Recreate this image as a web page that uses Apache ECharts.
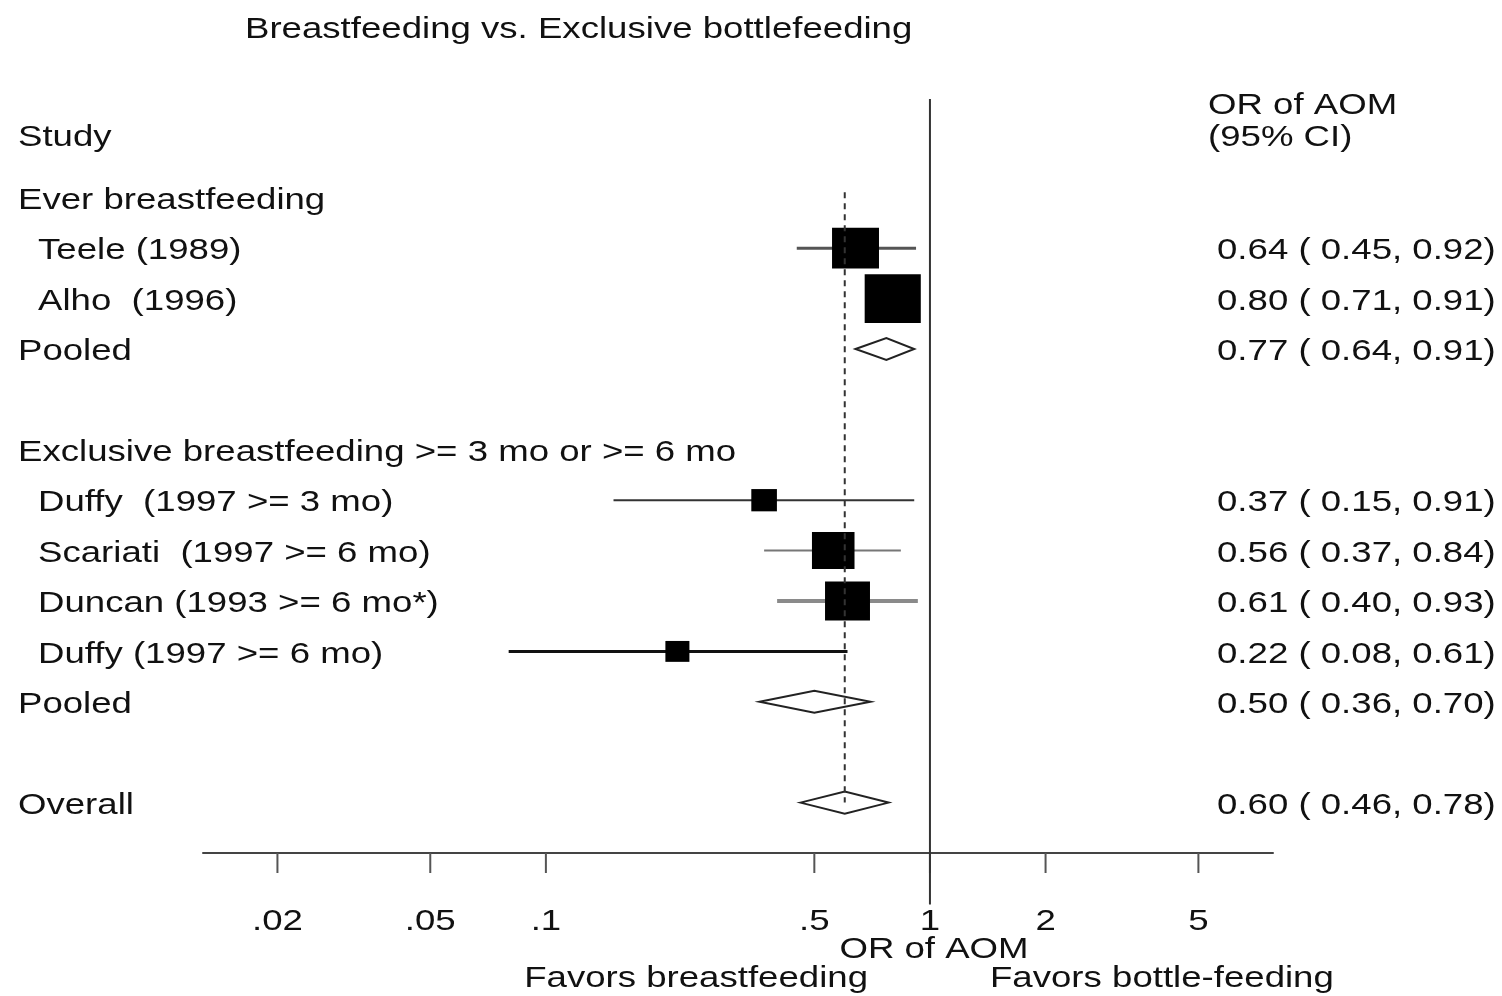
<!DOCTYPE html>
<html>
<head>
<meta charset="utf-8">
<title>Breastfeeding vs. Exclusive bottlefeeding</title>
<script src="https://cdn.jsdelivr.net/npm/echarts@6/dist/echarts.min.js"></script>
<style>
  html, body { margin: 0; padding: 0; background: #ffffff; }
  #chart { width: 1502px; height: 996px; }
</style>
</head>
<body>
<div id="chart"></div>
<script>
// ---- data -----------------------------------------------------------
const studyNames = [
  'Teele (1989)',
  'Alho  (1996)',
  'Pooled',
  'Duffy  (1997 >= 3 mo)',
  'Scariati  (1997 >= 6 mo)',
  'Duncan (1993 >= 6 mo*)',
  'Duffy (1997 >= 6 mo)',
  'Pooled',
  'Overall'
];
const rowPositions = [1, 2, 3, 6, 7, 8, 9, 10, 12];
const oddsRatio = [0.64, 0.80, 0.77, 0.37, 0.56, 0.61, 0.22, 0.50, 0.60];
const ciLower   = [0.45, 0.71, 0.64, 0.15, 0.37, 0.40, 0.08, 0.36, 0.46];
const ciUpper   = [0.92, 0.91, 0.91, 0.91, 0.84, 0.93, 0.61, 0.70, 0.78];
const isPooled  = [false, false, true, false, false, false, false, true, true];
const weightPct = [42, 60, 0, 12.5, 34.5, 38.5, 11, 0, 0];

const groupHeaders = ['Ever breastfeeding', 'Exclusive breastfeeding >= 3 mo or >= 6 mo'];
const groupHeaderRows = [0, 5];

const tickValues = [0.02, 0.05, 0.1, 0.5, 1, 2, 5];
const tickLabels = ['.02', '.05', '.1', '.5', '1', '2', '5'];

// ---- styling ----------------------------------------------------------
const FONT = '30px "Liberation Sans", Arial, Helvetica, sans-serif';
const TEXT_SX = 1.22;            // horizontal stretch of all lettering
const TEXT_DY = 3;               // optical shift so cap centres sit on the row
const TEXT_COLOR = '#111111';
const BOX_SCALE = 6.3;           // box side = BOX_SCALE * sqrt(weight)
const BOX_ASPECT = 1.15;
const ciStyles = [
  { color: '#555555', width: 3 },
  { color: '#444444', width: 3 },
  null,
  { color: '#333333', width: 2 },
  { color: '#777777', width: 2 },
  { color: '#8a8a8a', width: 4 },
  { color: '#111111', width: 3 },
  null,
  null
];

function textEl(x, y, text, align) {
  return {
    type: 'text',
    x: x,
    y: y + TEXT_DY,
    scaleX: TEXT_SX,
    silent: true,
    style: {
      text: text,
      x: 0,
      y: 0,
      font: FONT,
      fill: TEXT_COLOR,
      align: align || 'left',
      verticalAlign: 'middle'
    }
  };
}

function fmt(v) { return v.toFixed(2); }

const overallIndex = studyNames.length - 1;
const studyData = studyNames.map((_, i) => [oddsRatio[i], rowPositions[i], ciLower[i], ciUpper[i]]);
const headerData = groupHeaders.map((_, i) => [1, groupHeaderRows[i]]);
const tickData = tickValues.map(v => [v, 13]);
const refLineData = [
  [1, -1.96, 14.02],
  [oddsRatio[overallIndex], -0.11, rowPositions[overallIndex]]
];

const chart = echarts.init(document.getElementById('chart'), null, { renderer: 'canvas' });

const option = {
  animation: false,
  backgroundColor: '#ffffff',
  grid: { left: 203, right: 229, top: 97, bottom: 143, containLabel: false },
  xAxis: {
    type: 'log',
    logBase: 10,
    min: 0.0128,
    max: 7.82,
    position: 'bottom',
    axisLine: { show: true, onZero: false, lineStyle: { color: '#444444', width: 2 } },
    axisTick: { show: false },
    axisLabel: { show: false },
    splitLine: { show: false },
    minorTick: { show: false }
  },
  yAxis: {
    type: 'value',
    inverse: true,
    min: -2,
    max: 13,
    show: false,
    splitLine: { show: false }
  },
  graphic: [
    textEl(245, 27, 'Breastfeeding vs. Exclusive bottlefeeding'),
    textEl(18, 135, 'Study'),
    textEl(1208, 103, 'OR of AOM'),
    textEl(1208, 135, '(95% CI)'),
    textEl(934, 947, 'OR of AOM', 'center'),
    textEl(868, 976, 'Favors breastfeeding', 'right'),
    textEl(990, 976, 'Favors bottle-feeding')
  ],
  series: [
    {
      name: 'groups',
      type: 'custom',
      clip: false,
      silent: true,
      encode: { x: 0, y: 1 },
      data: headerData,
      renderItem: function (params, api) {
        const y = api.coord([1, api.value(1)])[1];
        return textEl(18, y, groupHeaders[params.dataIndex]);
      }
    },
    {
      name: 'studies',
      type: 'custom',
      clip: false,
      silent: true,
      encode: { x: 0, y: 1 },
      data: studyData,
      renderItem: function (params, api) {
        const i = params.dataIndex;
        const est = api.value(0);
        const row = api.value(1);
        const lo = api.value(2);
        const hi = api.value(3);
        const c = api.coord([est, row]);
        const l = api.coord([lo, row]);
        const h = api.coord([hi, row]);
        const children = [];
        if (isPooled[i]) {
          const half = 11;
          children.push({
            type: 'polygon',
            shape: { points: [[l[0], c[1]], [c[0], c[1] - half], [h[0], c[1]], [c[0], c[1] + half]] },
            style: { fill: '#ffffff', stroke: '#222222', lineWidth: 2 }
          });
        } else {
          const st = ciStyles[i];
          children.push({
            type: 'line',
            shape: { x1: l[0], y1: c[1], x2: h[0], y2: c[1] },
            style: { stroke: st.color, lineWidth: st.width }
          });
          const bh = BOX_SCALE * Math.sqrt(weightPct[i]);
          const bw = bh * BOX_ASPECT;
          children.push({
            type: 'rect',
            shape: { x: c[0] - bw / 2, y: c[1] - bh / 2, width: bw, height: bh },
            style: { fill: '#000000' }
          });
        }
        children.push(textEl(isPooled[i] ? 18 : 38, c[1], studyNames[i]));
        children.push(textEl(1217, c[1], fmt(est) + ' ( ' + fmt(lo) + ', ' + fmt(hi) + ')'));
        return { type: 'group', children: children };
      }
    },
    {
      name: 'reference lines',
      type: 'custom',
      clip: false,
      silent: true,
      z: 5,
      encode: { x: 0, y: 1 },
      data: refLineData,
      renderItem: function (params, api) {
        const x = api.value(0);
        const p0 = api.coord([x, api.value(1)]);
        const p1 = api.coord([x, api.value(2)]);
        const dashed = params.dataIndex === 1;
        return {
          type: 'line',
          shape: { x1: p0[0], y1: p0[1], x2: p1[0], y2: p1[1] },
          style: dashed
            ? { stroke: '#333333', lineWidth: 2, lineDash: [6, 5] }
            : { stroke: '#333333', lineWidth: 2 }
        };
      }
    },
    {
      name: 'ticks',
      type: 'custom',
      clip: false,
      silent: true,
      encode: { x: 0, y: 1 },
      data: tickData,
      renderItem: function (params, api) {
        const p = api.coord([api.value(0), api.value(1)]);
        return {
          type: 'group',
          children: [
            {
              type: 'line',
              shape: { x1: p[0], y1: p[1], x2: p[0], y2: p[1] + 20 },
              style: { stroke: '#555555', lineWidth: 2 }
            },
            textEl(p[0], p[1] + 66, tickLabels[params.dataIndex], 'center')
          ]
        };
      }
    }
  ]
};

chart.setOption(option);
</script>
</body>
</html>
